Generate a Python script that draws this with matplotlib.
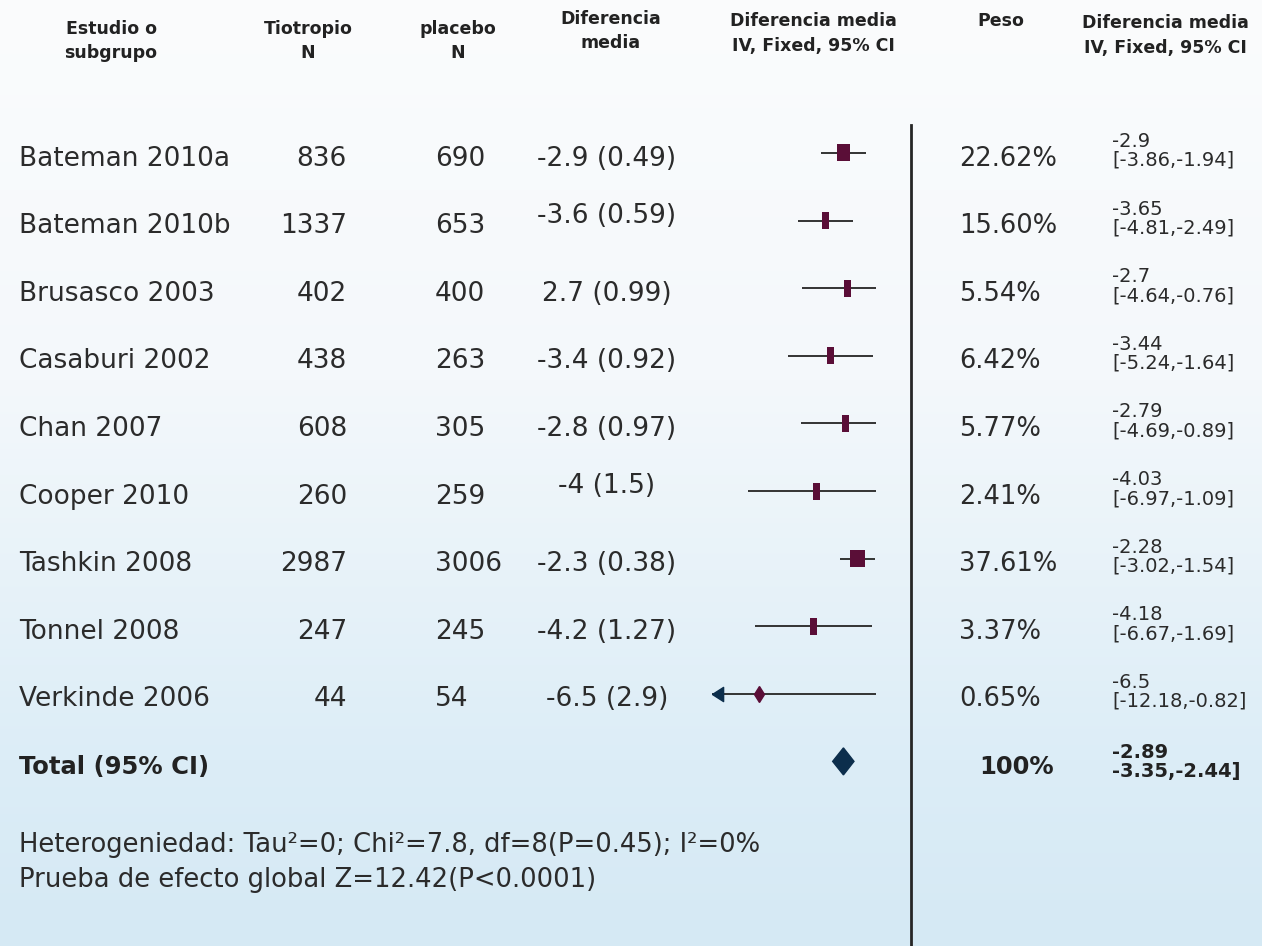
"""Forest plot: tiotropio vs placebo, mean difference (IV, fixed, 95% CI)."""
import numpy as np
import matplotlib
matplotlib.use("Agg")
import matplotlib.pyplot as plt

plt.rcParams["font.family"] = ["DejaVu Sans"]

# ============ Data ============
studies  = ["Bateman 2010a", "Bateman 2010b", "Brusasco 2003", "Casaburi 2002", "Chan 2007",
            "Cooper 2010", "Tashkin 2008", "Tonnel 2008", "Verkinde 2006"]
n_tio    = [836, 1337, 402, 438, 608, 260, 2987, 247, 44]
n_plac   = [690, 653, 400, 263, 305, 259, 3006, 245, 54]
dm_txt   = ["-2.9 (0.49)", "-3.6 (0.59)", "2.7 (0.99)", "-3.4 (0.92)", "-2.8 (0.97)",
            "-4 (1.5)", "-2.3 (0.38)", "-4.2 (1.27)", "-6.5 (2.9)"]
est      = [-2.9, -3.65, -2.7, -3.44, -2.79, -4.03, -2.28, -4.18, -6.5]
ci_lo    = [-3.86, -4.81, -4.64, -5.24, -4.69, -6.97, -3.02, -6.67, -12.18]
ci_hi    = [-1.94, -2.49, -0.76, -1.64, -0.89, -1.09, -1.54, -1.69, -0.82]
weight   = [22.62, 15.60, 5.54, 6.42, 5.77, 2.41, 37.61, 3.37, 0.65]
weight_txt = ["22.62%", "15.60%", "5.54%", "6.42%", "5.77%", "2.41%", "37.61%", "3.37%", "0.65%"]
est_txt  = ["-2.9", "-3.65", "-2.7", "-3.44", "-2.79", "-4.03", "-2.28", "-4.18", "-6.5"]

tot_est, tot_lo, tot_hi = -2.89, -3.35, -2.44
tot_weight_txt = "100%"
tot_ci_txt = "-2.89\n-3.35,-2.44]"

het_lines = ["Heterogeniedad: Tau²=0; Chi²=7.8, df=8(P=0.45); I²=0%",
             "Prueba de efecto global Z=12.42(P<0.0001)"]

headers = [  # (x centre, lines, first line y)
    (111, ["Estudio o", "subgrupo"], 27),
    (308, ["Tiotropio", "N"], 27),
    (458, ["placebo", "N"], 27),
    (611, ["Diferencia", "media"], 18),
    (813, ["Diferencia media", "IV, Fixed, 95% CI"], 20),
    (1001, ["Peso"], 20),
    (1165, ["Diferencia media", "IV, Fixed, 95% CI"], 22),
]

# ============ Layout ============
W, H = 1262, 946
TXT = "#2b2b2b"
HEAD = "#222222"
MAROON = "#5a0e37"
NAVY = "#0c2e4c"
row_y = 153 + 67.6 * np.arange(len(studies) + 1)

fig = plt.figure(figsize=(W / 100, H / 100), dpi=100)
ax = fig.add_axes([0, 0, 1, 1])
ax.set_xlim(0, W); ax.set_ylim(H, 0); ax.axis("off")

# soft blue background, white at the top
yy = np.arange(H)
stops = [0, 380, 760, H]
bg = np.stack([np.interp(yy, stops, c) for c in ([251, 244, 220, 213],
                                                  [252, 248, 237, 233],
                                                  [253, 251, 247, 244])], axis=1) / 255
ax.imshow(bg[:, None, :].repeat(2, axis=1), extent=[0, W, H, 0], aspect="auto", zorder=0)

# header
for x, lines, y0 in headers:
    for k, s in enumerate(lines):
        ax.text(x, y0 + 24 * k + 6.5, s, ha="center", va="baseline", fontsize=12.5,
                fontweight="bold", color=HEAD)

# study rows
dm_nudge = {1: -10, 5: -11}
for i, name in enumerate(studies):
    yb = row_y[i] + 3 + 9.5
    ax.text(19, yb, name, fontsize=19, color=TXT, va="baseline")
    ax.text(347, yb, str(n_tio[i]), fontsize=19, color=TXT, va="baseline", ha="right")
    ax.text(435, yb, str(n_plac[i]), fontsize=19, color=TXT, va="baseline")
    ax.text(607, yb + dm_nudge.get(i, 0), dm_txt[i], fontsize=19, color=TXT, va="baseline", ha="center")
    ax.text(959, yb, weight_txt[i], fontsize=18.5, color=TXT, va="baseline")
    ax.text(1112, row_y[i] - 2, f"{est_txt[i]}\n[{ci_lo[i]},{ci_hi[i]:.2f}]", fontsize=14,
            color=TXT, va="center", linespacing=1.0)

# total row
yt = row_y[-1]
ax.text(19, yt + 12.5, "Total (95% CI)", fontsize=17.5, fontweight="bold", color=HEAD, va="baseline")
ax.text(1017, yt + 12.5, tot_weight_txt, fontsize=17.5, fontweight="bold", color=HEAD,
        va="baseline", ha="center")
ax.text(1112, yt + 1, tot_ci_txt, fontsize=14, fontweight="bold", color=HEAD, va="center",
        linespacing=1.0)

for k, s in enumerate(het_lines):
    ax.text(19, 852 + 35 * k, s, fontsize=18.6, color=TXT, va="baseline")

# ============ Forest panel ============
XMIN, XMAX = -8.5, -1.5
fx = fig.add_axes([712 / W, 0, 164 / W, 1])
fx.set_xlim(XMIN, XMAX); fx.set_ylim(H, 0); fx.axis("off"); fx.patch.set_alpha(0)
px = 164 / (XMAX - XMIN)  # pixels per unit

fx.axvline(0, ymin=0, ymax=(H - 125) / H, color="#262626", lw=2.0, clip_on=False)

ys = row_y[:-1]
fx.hlines(ys, np.maximum(ci_lo, XMIN), ci_hi, color="#333333", lw=1.4, zorder=2)

w = np.asarray(weight)
box_px = np.interp(w, [0, 16, 22.6, 37.6], [7, 7, 13, 15])
big = w >= 1
fx.barh(ys[big], box_px[big] / px, left=np.asarray(est)[big] - box_px[big] / px / 2,
        height=17, color=MAROON, zorder=3)
fx.plot(np.asarray(est)[~big], ys[~big], marker="d", ms=8, color=MAROON, ls="none", zorder=3)

# study CI running past the panel edge
off = np.asarray(ci_lo) < XMIN
fx.plot(np.full(off.sum(), XMIN), ys[off], ls="none", ms=16, color=NAVY, clip_on=False, zorder=4,
        marker=[(0, 0), (1.25, 0.8), (1.25, -0.8), (0, 0)])

fx.fill([tot_lo, tot_est, tot_hi, tot_est], [yt, yt - 13.5, yt, yt + 13.5], color=NAVY, zorder=3)

fig.savefig("out.png", dpi=100)
